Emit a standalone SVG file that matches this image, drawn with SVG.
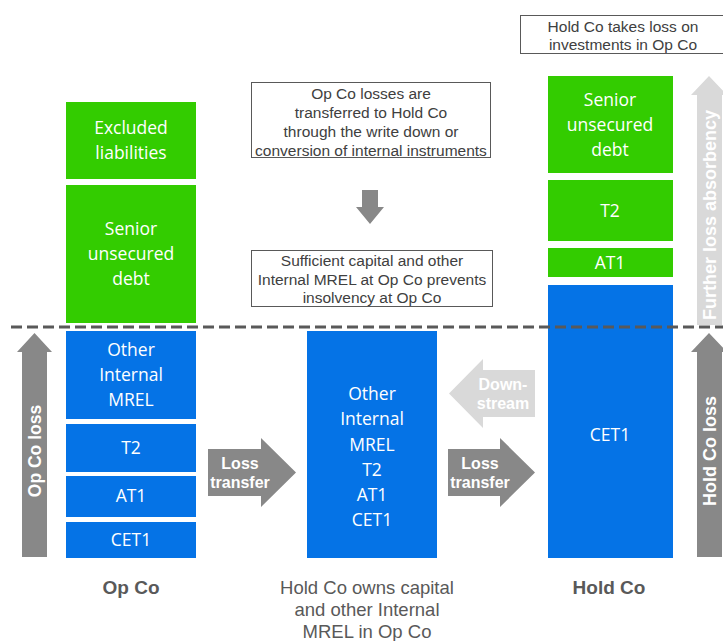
<svg xmlns="http://www.w3.org/2000/svg" width="723" height="641" viewBox="0 0 723 641">
<style>
.g{fill:#33cc00}
.b{fill:#0573e6}
.bt{font-family:"Open Sans","Noto Sans",sans-serif;font-size:17.5px;fill:#fff;text-anchor:middle}
.at{font-family:"Liberation Sans",Arial,sans-serif;font-weight:bold;font-size:16px;fill:#fff;text-anchor:middle}
.box{fill:#fff;stroke:#595959;stroke-width:1}
.nt{font-family:"Liberation Sans",Arial,sans-serif;font-size:15.5px;fill:#404040;text-anchor:middle}
.lbl{font-family:"Liberation Sans",Arial,sans-serif;font-weight:bold;font-size:19px;fill:#595959;text-anchor:middle}
.cap{font-family:"Liberation Sans",Arial,sans-serif;font-size:18.5px;fill:#595959;text-anchor:middle}
.da{fill:#888888}
.la{fill:#d9d9d9}
</style>
<g id="opco">
<g id="opco-excluded"><rect class="g" x="66" y="102" width="130" height="77"/><text class="bt" x="131" y="134">Excluded</text><text class="bt" x="131" y="159">liabilities</text></g>
<g id="opco-senior"><rect class="g" x="66" y="185" width="130" height="138"/><text class="bt" x="131" y="235">Senior</text><text class="bt" x="131" y="260">unsecured</text><text class="bt" x="131" y="285">debt</text></g>
<g id="opco-mrel"><rect class="b" x="66" y="331" width="130" height="88"/><text class="bt" x="131" y="356">Other</text><text class="bt" x="131" y="381">Internal</text><text class="bt" x="131" y="406">MREL</text></g>
<g id="opco-t2"><rect class="b" x="66" y="424" width="130" height="48"/><text class="bt" x="131" y="454">T2</text></g>
<g id="opco-at1"><rect class="b" x="66" y="476" width="130" height="41"/><text class="bt" x="131" y="502">AT1</text></g>
<g id="opco-cet1"><rect class="b" x="66" y="522" width="130" height="36"/><text class="bt" x="131" y="546">CET1</text></g>
<text class="lbl" x="131" y="594">Op Co</text>
</g>
<g id="intermediate">
<rect class="b" x="307" y="331" width="130" height="227"/>
<text class="bt" x="372" y="400">Other</text><text class="bt" x="372" y="425">Internal</text><text class="bt" x="372" y="451">MREL</text><text class="bt" x="372" y="476">T2</text><text class="bt" x="372" y="501">AT1</text><text class="bt" x="372" y="526">CET1</text>
<text class="cap" x="367" y="594">Hold Co owns capital</text><text class="cap" x="367" y="616">and other Internal</text><text class="cap" x="367" y="638">MREL in Op Co</text>
</g>
<g id="holdco">
<g id="holdco-senior"><rect class="g" x="548" y="76" width="125" height="97"/><text class="bt" x="610" y="106">Senior</text><text class="bt" x="610" y="131">unsecured</text><text class="bt" x="610" y="156">debt</text></g>
<g id="holdco-t2"><rect class="g" x="548" y="180" width="125" height="61"/><text class="bt" x="610" y="217">T2</text></g>
<g id="holdco-at1"><rect class="g" x="548" y="248" width="125" height="29"/><text class="bt" x="610" y="269">AT1</text></g>
<g id="holdco-cet1"><rect class="b" x="548" y="285" width="125" height="273"/><text class="bt" x="610" y="441">CET1</text></g>
<text class="lbl" x="609" y="594">Hold Co</text>
</g>
<g id="note-top">
<rect class="box" x="251.5" y="82.5" width="239" height="75"/>
<text class="nt" x="371" y="99">Op Co losses are</text><text class="nt" x="371" y="118">transferred to Hold Co</text><text class="nt" x="371" y="137">through the write down or</text><text class="nt" x="371" y="156">conversion of internal instruments</text>
</g>
<g id="note-mid">
<rect class="box" x="251.5" y="250.5" width="241" height="56"/>
<text class="nt" x="372" y="266">Sufficient capital and other</text><text class="nt" x="372" y="285">Internal MREL at Op Co prevents</text><text class="nt" x="372" y="303">insolvency at Op Co</text>
</g>
<g id="note-holdco">
<rect class="box" x="520.5" y="15.5" width="205" height="38"/>
<text class="nt" x="623" y="32">Hold Co takes loss on</text><text class="nt" x="623" y="50">investments in Op Co</text>
</g>
<g id="connectors">
<line x1="11" y1="327" x2="723" y2="327" stroke="#595959" stroke-width="3" stroke-dasharray="11 5"/>
<polygon class="da" points="362,190 378,190 378,207 384,207 370,224 356,207 362,207"/>
<g id="opco-loss"><polygon class="da" points="22,557 22,352 17,352 34.5,333 52,352 47,352 47,557"/><text class="at" style="font-size:17.5px" transform="translate(41,451) rotate(-90)">Op Co loss</text></g>
<g id="loss-transfer-1"><polygon class="da" points="208,449 261,449 261,438 296,472.5 261,507 261,496 208,496"/><text class="at" x="240" y="469">Loss</text><text class="at" x="240" y="488">transfer</text></g>
<g id="loss-transfer-2"><polygon class="da" points="448,449 500,449 500,438 535,472.5 500,507 500,496 448,496"/><text class="at" x="480" y="469">Loss</text><text class="at" x="480" y="488">transfer</text></g>
<g id="downstream"><polygon class="la" points="535,370 483,370 483,359 449,393.5 483,428 483,417 535,417"/><text class="at" x="503" y="390">Down-</text><text class="at" x="503" y="409">stream</text></g>
<g id="holdco-loss"><polygon class="da" points="697,557 697,352 691,352 709,333 727,352 722,352 722,557"/><text class="at" style="font-size:18px" transform="translate(716,451) rotate(-90)">Hold Co loss</text></g>
<g id="further"><polygon class="la" points="697,325 697,95 691,95 709,76 727,95 722,95 722,325"/><text class="at" style="font-size:18px" transform="translate(716,215) rotate(-90)">Further loss absorbency</text></g>
</g>
</svg>
